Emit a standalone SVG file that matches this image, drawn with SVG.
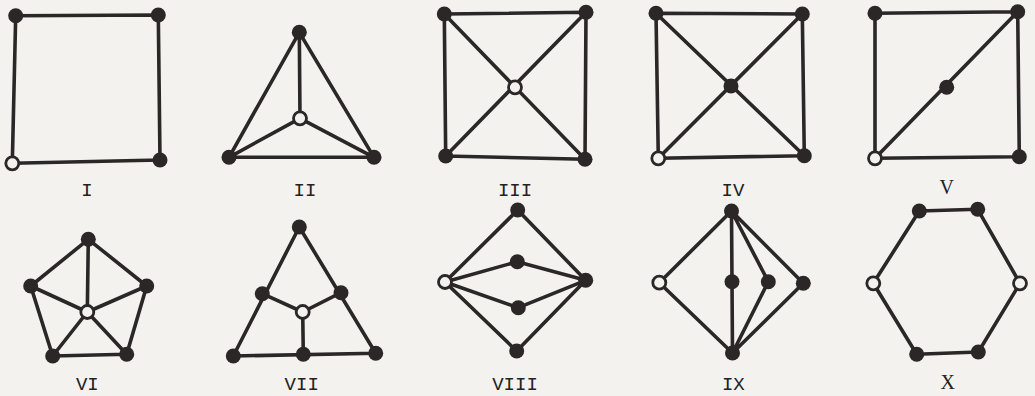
<svg xmlns="http://www.w3.org/2000/svg" width="1035" height="396" viewBox="0 0 1035 396">
<style>
.e{stroke:#2b2727;stroke-width:3.6;fill:none;stroke-linecap:round;stroke-linejoin:round}
.f{fill:#2b2727}
.o{fill:#f3f2ef;stroke:#2b2727;stroke-width:2.8}
.t{font-family:"Liberation Mono",monospace;font-size:19px;fill:#222;text-anchor:middle}
.s{font-family:"Liberation Serif",serif;font-size:20px;fill:#222;text-anchor:middle}
</style>
<rect width="1035" height="396" fill="#f3f2ef"/>
<g id="connectors">
<path class="e" d="M15.7,15.7L158.3,15L160,160L12.3,163.3Z"/>
<path class="e" d="M299.3,32.3L229,157.3L374,157.3Z M299.3,32.3L300,118.3 M229,157.3L300,118.3L374,157.3"/>
<path class="e" d="M444.3,14L586,12.3L585,159.3L445.7,156Z M444.3,14L585,159.3 M586,12.3L445.7,156"/>
<path class="e" d="M656,13.3L802.3,14L804.3,155.7L658.3,158.3Z M656,13.3L804.3,155.7 M802.3,14L658.3,158.3"/>
<path class="e" d="M875,13.3L1017.7,11.7L1019.3,156.7L875,158.3Z M875,158.3L1017.7,11.7"/>
<path class="e" d="M88.3,239.3L146.7,286L126.7,354.3L52.7,356L30.7,286Z M87.3,312L88.3,239.3 M87.3,312L146.7,286 M87.3,312L126.7,354.3 M87.3,312L52.7,356 M87.3,312L30.7,286"/>
<path class="e" d="M299.3,227L233.3,356L375.7,353.3Z M262.3,293.7L302.7,312L341,292.7 M302.7,312L303.3,354.3"/>
<path class="e" d="M517.7,210L445,282L516.7,351L585.7,280.3Z M445,282L517.3,261.7L585.7,280.3 M445,282L518.3,307.7L585.7,280.3"/>
<path class="e" d="M731.5,211L659.3,282.7L732.5,353 M731.5,211L732.5,353 M731.5,211L768.3,281.7L732.5,353 M731.5,211L803.3,283.3L732.5,353"/>
<path class="e" d="M919.3,211L977.7,209.3L1020,283.3L978.3,352L916.7,354.3L873.3,283.3Z"/>
</g>
<g id="g1">
<circle class="f" cx="15.7" cy="15.7" r="7.5"/><circle class="f" cx="158.3" cy="15" r="7.5"/><circle class="f" cx="160" cy="160" r="7.5"/><circle class="o" cx="12.3" cy="163.3" r="6.5"/>
<text class="t" x="87" y="196">I</text>
</g>
<g id="g2">
<circle class="f" cx="299.3" cy="32.3" r="7.5"/><circle class="f" cx="229" cy="157.3" r="7.5"/><circle class="f" cx="374" cy="157.3" r="7.5"/><circle class="o" cx="300" cy="118.3" r="6.5"/>
<text class="t" x="305" y="196">II</text>
</g>
<g id="g3">
<circle class="f" cx="444.3" cy="14" r="7.5"/><circle class="f" cx="586" cy="12.3" r="7.5"/><circle class="f" cx="585" cy="159.3" r="7.5"/><circle class="f" cx="445.7" cy="156" r="7.5"/><circle class="o" cx="515" cy="87.3" r="6.5"/>
<text class="t" x="515" y="196">III</text>
</g>
<g id="g4">
<circle class="f" cx="656" cy="13.3" r="7.5"/><circle class="f" cx="802.3" cy="14" r="7.5"/><circle class="f" cx="804.3" cy="155.7" r="7.5"/><circle class="o" cx="658.3" cy="158.3" r="6.5"/><circle class="f" cx="731" cy="86" r="7.5"/>
<text class="t" x="733" y="196">IV</text>
</g>
<g id="g5">
<circle class="f" cx="875" cy="13.3" r="7.5"/><circle class="f" cx="1017.7" cy="11.7" r="7.5"/><circle class="f" cx="1019.3" cy="156.7" r="7.5"/><circle class="o" cx="875" cy="158.3" r="6.5"/><circle class="f" cx="946.7" cy="87.3" r="7.5"/>
<text class="s" x="946.7" y="194">V</text>
</g>
<g id="g6">
<circle class="f" cx="88.3" cy="239.3" r="7.5"/><circle class="f" cx="30.7" cy="286" r="7.5"/><circle class="f" cx="146.7" cy="286" r="7.5"/><circle class="f" cx="52.7" cy="356" r="7.5"/><circle class="f" cx="126.7" cy="354.3" r="7.5"/><circle class="o" cx="87.3" cy="312" r="6.5"/>
<text class="t" x="87.3" y="390">VI</text>
</g>
<g id="g7">
<circle class="f" cx="299.3" cy="227" r="7.5"/><circle class="f" cx="262.3" cy="293.7" r="7.5"/><circle class="f" cx="341" cy="292.7" r="7.5"/><circle class="f" cx="233.3" cy="356" r="7.5"/><circle class="f" cx="303.3" cy="354.3" r="7.5"/><circle class="f" cx="375.7" cy="353.3" r="7.5"/><circle class="o" cx="302.7" cy="312" r="6.5"/>
<text class="t" x="301.7" y="390">VII</text>
</g>
<g id="g8">
<circle class="f" cx="517.7" cy="210" r="7.5"/><circle class="o" cx="445" cy="282" r="6.5"/><circle class="f" cx="585.7" cy="280.3" r="7.5"/><circle class="f" cx="517.3" cy="261.7" r="7.5"/><circle class="f" cx="518.3" cy="307.7" r="7.5"/><circle class="f" cx="516.7" cy="351" r="7.5"/>
<text class="t" x="515" y="390">VIII</text>
</g>
<g id="g9">
<circle class="f" cx="731.5" cy="211" r="7.5"/><circle class="o" cx="659.3" cy="282.7" r="6.5"/><circle class="f" cx="732" cy="281.7" r="7.5"/><circle class="f" cx="768.3" cy="281.7" r="7.5"/><circle class="f" cx="803.3" cy="283.3" r="7.5"/><circle class="f" cx="732.5" cy="353" r="7.5"/>
<text class="t" x="733.3" y="390">IX</text>
</g>
<g id="g10">
<circle class="f" cx="919.3" cy="211" r="7.5"/><circle class="f" cx="977.7" cy="209.3" r="7.5"/><circle class="o" cx="873.3" cy="283.3" r="6.5"/><circle class="o" cx="1020" cy="283.3" r="6.5"/><circle class="f" cx="916.7" cy="354.3" r="7.5"/><circle class="f" cx="978.3" cy="352" r="7.5"/>
<text class="s" x="947.7" y="389">X</text>
</g>
</svg>
